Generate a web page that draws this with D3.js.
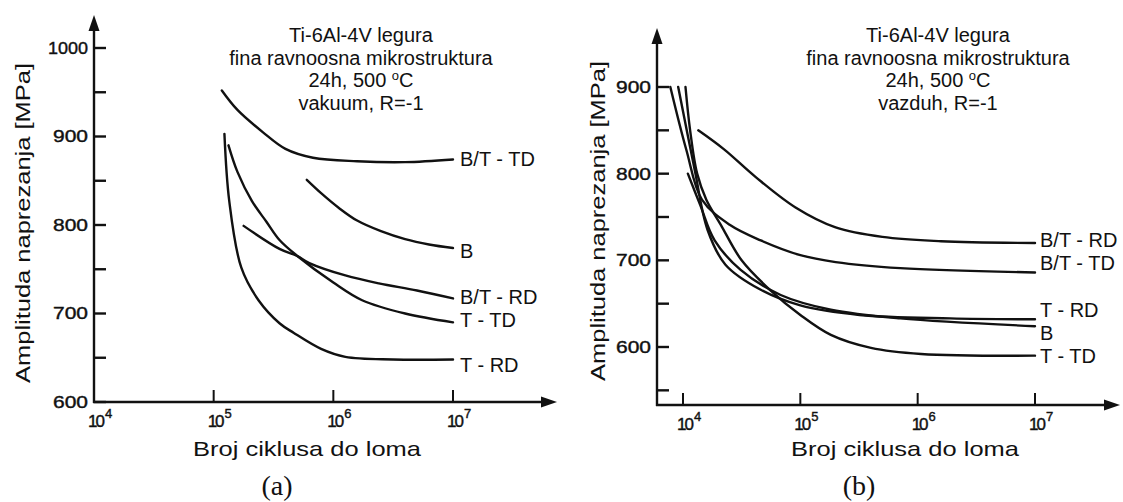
<!DOCTYPE html>
<html>
<head>
<meta charset="utf-8">
<script src="https://cdn.jsdelivr.net/npm/d3@7"></script>
<style>
  body { margin: 0; background: #fff; }
  svg { display: block; }
  text { font-family: "Liberation Sans", Arial, sans-serif; fill: #111; }
</style>
</head>
<body>
<script>
'use strict';

// ---- data: [cycles to failure, stress amplitude MPa] ----

// (a) vacuum
const a_BT_TD = [[1.17e5, 952], [1.58e5, 930], [2.57e5, 905], [3.98e5, 886], [6.76e5, 876], [1.58e6, 872], [3.98e6, 871], [1e7, 874]];
const a_B     = [[6.0e5, 851], [7.9e5, 836], [1.12e6, 819], [1.58e6, 805], [2.5e6, 793], [3.98e6, 784], [6.3e6, 778], [1e7, 774]];
const a_BT_RD = [[1.78e5, 799], [3.55e5, 773], [5.0e5, 765], [6.3e5, 757], [1.26e6, 743], [2.4e6, 734], [5.0e6, 726], [1e7, 717]];
const a_T_TD  = [[1.33e5, 890], [1.58e5, 860], [2.09e5, 827], [2.75e5, 804], [3.55e5, 783], [5.0e5, 765], [1e6, 735], [1.74e6, 715], [3.98e6, 700], [1e7, 690]];
const a_T_RD  = [[1.23e5, 903], [1.35e5, 827], [1.7e5, 752], [2.37e5, 715], [3.55e5, 689], [4.68e5, 678], [7.9e5, 660], [1.26e6, 651], [3.16e6, 648], [1e7, 648]];

// (b) air
const b_BT_RD = [[1.35e4, 850], [2.24e4, 828], [4.17e4, 796], [9.1e4, 761], [2.0e5, 738], [5.0e5, 727], [1.58e6, 722], [1e7, 720]];
const b_BT_TD = [[7.8e3, 900], [1.07e4, 827], [1.45e4, 770], [2.5e4, 741], [4.6e4, 723], [1e5, 706], [2.0e5, 698], [7.1e5, 691], [1e7, 686]];
const b_T_RD  = [[9.1e3, 900], [1.26e4, 804], [1.62e4, 735], [2.3e4, 695], [4.6e4, 666], [1e5, 648], [3.2e5, 637], [1.9e6, 633], [1e7, 632]];
const b_B     = [[1.1e4, 800], [1.4e4, 764], [1.86e4, 723], [3.1e4, 689], [6.8e4, 660], [1.82e5, 643], [7.1e5, 633], [1e7, 624]];
const b_T_TD  = [[1.05e4, 900], [1.15e4, 850], [1.32e4, 800], [1.58e4, 770], [2.1e4, 741], [3.16e4, 700], [5.5e4, 666], [1e5, 637], [1.82e5, 614], [4.0e5, 599], [1.07e6, 592], [1e7, 590]];

const seriesNamesA = ["B/T - TD", "B", "B/T - RD", "T - TD", "T - RD"];
const seriesA = [a_BT_TD, a_B, a_BT_RD, a_T_TD, a_T_RD];
const labelAtA = [875, 771, 719, 693, 642];   // MPa level of each end label

const seriesNamesB = ["B/T - RD", "B/T - TD", "T - RD", "B", "T - TD"];
const seriesB = [b_BT_RD, b_BT_TD, b_T_RD, b_B, b_T_TD];
const labelAtB = [723, 697, 643, 616, 590];

const yTicksA = [600, 650, 700, 750, 800, 850, 900, 950, 1000];
const yLabelsA = [600, 700, 800, 900, 1000];
const yTicksB = [550, 600, 650, 700, 750, 800, 850, 900];
const yLabelsB = [600, 700, 800, 900];
const xTicks = [1e4, 1e5, 1e6, 1e7];
const xExponents = ["4", "5", "6", "7"];

const titleA = ["Ti-6Al-4V legura", "fina ravnoosna mikrostruktura", "24h, 500 °C", "vakuum, R=-1"];
const titleB = ["Ti-6Al-4V legura", "fina ravnoosna mikrostruktura", "24h, 500 °C", "vazduh, R=-1"];
const xTitle = "Broj ciklusa do loma";
const yTitle = "Amplituda naprezanja [MPa]";

const ink = '#111';

const svg = d3.select('body').append('svg')
  .attr('width', 1123)
  .attr('height', 502);

const panelA = {
  xRange: [94, 453], yDomain: [600, 1000], yRange: [402, 48],
  axisX: 94, axisY: 402, yTip: 15, xTip: 557,
  yTicks: yTicksA, yLabels: yLabelsA,
  names: seriesNamesA, series: seriesA, labelAt: labelAtA, labelX: 460,
  title: titleA, titleX: 361, xLabelX: 307, yLabelX: 22, yLabelY: 223, tag: "(a)", tagX: 277
};

const panelB = {
  xRange: [683, 1035], yDomain: [600, 900], yRange: [347, 87],
  axisX: 657, axisY: 405, yTip: 28, xTip: 1120,
  yTicks: yTicksB, yLabels: yLabelsB,
  names: seriesNamesB, series: seriesB, labelAt: labelAtB, labelX: 1040,
  title: titleB, titleX: 938, xLabelX: 905, yLabelX: 597, yLabelY: 221, tag: "(b)", tagX: 859
};

drawPanel(panelA);
drawPanel(panelB);

function drawPanel(p) {
  const x = d3.scaleLog().domain([1e4, 1e7]).range(p.xRange);
  const y = d3.scaleLinear().domain(p.yDomain).range(p.yRange);
  const g = svg.append('g');

  // axis lines with arrow heads
  g.append('line')
    .attr('x1', p.axisX).attr('x2', p.axisX)
    .attr('y1', p.axisY + 1).attr('y2', p.yTip + 10)
    .attr('stroke', ink).attr('stroke-width', 2.4);
  g.append('line')
    .attr('x1', p.axisX - 1).attr('x2', p.xTip - 10)
    .attr('y1', p.axisY).attr('y2', p.axisY)
    .attr('stroke', ink).attr('stroke-width', 2.4);
  g.append('path')
    .attr('d', `M${p.axisX},${p.yTip} L${p.axisX - 5.5},${p.yTip + 16} L${p.axisX + 5.5},${p.yTip + 16}Z`)
    .attr('fill', ink);
  g.append('path')
    .attr('d', `M${p.xTip},${p.axisY} L${p.xTip - 16},${p.axisY - 5.5} L${p.xTip - 16},${p.axisY + 5.5}Z`)
    .attr('fill', ink);

  // y tick labels from the axis generator, tick marks drawn inward
  const yAxis = g.append('g')
    .attr('transform', `translate(${p.axisX},0)`)
    .call(d3.axisLeft(y).tickValues(p.yTicks).tickSize(0).tickPadding(6)
      .tickFormat(d => p.yLabels.includes(d) ? d : ''));
  yAxis.select('.domain').remove();
  yAxis.selectAll('.tick line').remove();
  yAxis.selectAll('.tick text')
    .attr('font-family', '"Liberation Sans", Arial, sans-serif')
    .attr('font-size', 17)
    .attr('fill', ink)
    .attr('stroke', ink)
    .attr('stroke-width', 0.4)
    .each(function(d) {
      if (p.yLabels.includes(d)) {
        d3.select(this)
          .attr('textLength', String(d).length > 3 ? 40 : 35)
          .attr('lengthAdjust', 'spacingAndGlyphs');
      }
    });

  g.selectAll('.ytick')
    .data(p.yTicks)
    .enter()
    .append('line')
      .attr('class', 'ytick')
      .attr('x1', p.axisX)
      .attr('x2', p.axisX + 12)
      .attr('y1', d => y(d))
      .attr('y2', d => y(d))
      .attr('stroke', ink)
      .attr('stroke-width', 2.4);

  // x ticks, pointing up, labels 10^n
  g.selectAll('.xtick')
    .data(xTicks)
    .enter()
    .append('line')
      .attr('class', 'xtick')
      .attr('x1', d => x(d))
      .attr('x2', d => x(d))
      .attr('y1', p.axisY)
      .attr('y2', p.axisY - 12)
      .attr('stroke', ink)
      .attr('stroke-width', 2);

  g.selectAll('.xlab')
    .data(xTicks)
    .enter()
    .append('text')
      .attr('class', 'xlab')
      .attr('x', d => x(d) - 6)
      .attr('y', p.axisY + 25)
      .attr('fill', ink)
      .attr('stroke', ink)
      .attr('stroke-width', 0.4)
      .each(function(d, i) {
        const t = d3.select(this);
        t.append('tspan').attr('font-size', 17).attr('letter-spacing', -2).text('10');
        t.append('tspan').attr('font-size', 13).attr('dy', -9).attr('dx', 2).text(xExponents[i]);
      });

  // curves
  const line = d3.line()
    .x(d => x(d[0]))
    .y(d => y(d[1]))
    .curve(d3.curveCatmullRom.alpha(0.5));

  g.selectAll('.curve')
    .data(p.series)
    .enter()
    .append('path')
      .attr('class', 'curve')
      .attr('d', line)
      .attr('fill', 'none')
      .attr('stroke', ink)
      .attr('stroke-width', 2.4)
      .attr('stroke-linecap', 'round');

  // end labels
  g.selectAll('.lbl')
    .data(p.names)
    .enter()
    .append('text')
      .attr('class', 'lbl')
      .attr('x', p.labelX)
      .attr('y', (d, i) => y(p.labelAt[i]))
      .attr('dominant-baseline', 'central')
      .style('font-size', '20px')
      .text(d => d);

  // title block
  p.title.forEach((s, i) => {
    const t = g.append('text')
      .attr('x', p.titleX)
      .attr('y', 42 + i * 22.7)
      .attr('text-anchor', 'middle')
      .style('font-size', '20px');
    if (s.includes('°')) {
      const parts = s.split('°');
      t.append('tspan').text(parts[0]);
      t.append('tspan').attr('font-size', 13).attr('dy', -7).text('o');
      t.append('tspan').attr('dy', 7).text(parts[1]);
    } else {
      t.text(s);
    }
  });

  // axis titles
  g.append('text')
    .attr('x', p.xLabelX)
    .attr('y', 456)
    .attr('text-anchor', 'middle')
    .attr('textLength', 228)
    .attr('lengthAdjust', 'spacingAndGlyphs')
    .style('font-size', '21px')
    .text(xTitle);

  g.append('text')
    .attr('transform', `translate(${p.yLabelX},${p.yLabelY})rotate(-90)`)
    .attr('text-anchor', 'middle')
    .attr('dominant-baseline', 'central')
    .attr('textLength', 320)
    .attr('lengthAdjust', 'spacingAndGlyphs')
    .style('font-size', '21px')
    .text(yTitle);

  // panel tag
  g.append('text')
    .attr('x', p.tagX)
    .attr('y', 495)
    .attr('text-anchor', 'middle')
    .style('font-family', '"Liberation Serif", "Times New Roman", serif')
    .style('font-size', '28px')
    .text(p.tag);
}
</script>
</body>
</html>
